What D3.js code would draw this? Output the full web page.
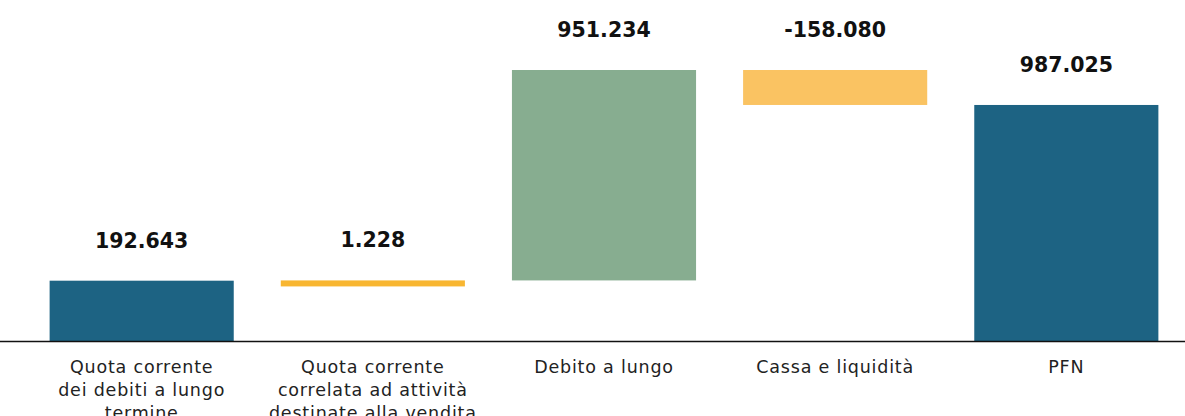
<!DOCTYPE html>
<html>
<head>
<meta charset="utf-8">
<script src="https://cdn.jsdelivr.net/npm/d3@7"></script>
<style>
  body { margin: 0; background: #fff; }
  svg { display: block; }
</style>
</head>
<body>
<div id="chart-area"></div>
<script>
const WIDTH = 1185
const HEIGHT = 416

// data
const categories = [
  "Quota corrente\ndei debiti a lungo\ntermine",
  "Quota corrente\ncorrelata ad attività\ndestinate alla vendita",
  "Debito a lungo",
  "Cassa e liquidità",
  "PFN"
]
const values = [192643, 1228, 951234, -158080, 987025]
const kinds = ["total", "delta", "delta", "delta", "total"]
const colors = ["#1d6383", "#f8b631", "#87ad90", "#fac362", "#1d6383"]

const AXIS_MIN = -80000

const it = d3.formatLocale({ decimal: ",", thousands: ".", grouping: [3], currency: ["€", ""], minus: "-" })
const fmt = it.format(",")

// running totals
let run = 0
const bars = values.map((v, i) => {
  let start, end
  if (kinds[i] === "total") {
    start = AXIS_MIN
    end = v
    run = v
  } else {
    start = run
    end = run + v
    run = end
  }
  return { name: categories[i], value: v, start, end, color: colors[i] }
})

const svg = d3.select("#chart-area").append("svg")
  .attr("width", WIDTH)
  .attr("height", HEIGHT)

const x = d3.scaleBand()
  .domain(categories)
  .range([26.5, 1181.5])
  .paddingInner(0.2035)
  .paddingOuter(0.1)

const y = d3.scaleLinear()
  .domain([AXIS_MIN, d3.max(bars, d => Math.max(d.start, d.end))])
  .range([341, 70])

const MIN_H = 6

svg.selectAll("rect.bar")
  .data(bars)
  .enter().append("rect")
    .attr("class", "bar")
    .attr("x", d => x(d.name))
    .attr("width", x.bandwidth())
    .attr("y", d => y(Math.max(d.start, d.end)))
    .attr("height", d => Math.max(MIN_H, Math.abs(y(d.start) - y(d.end))))
    .attr("fill", d => d.color)

// value labels
svg.selectAll("text.value")
  .data(bars)
  .enter().append("text")
    .attr("class", "value")
    .attr("x", d => x(d.name) + x.bandwidth() / 2)
    .attr("y", d => y(Math.max(d.start, d.end)) - 33)
    .attr("text-anchor", "middle")
    .attr("font-family", "DejaVu Sans, sans-serif")
    .attr("font-weight", "bold")
    .attr("font-size", "20.5px")
    .attr("fill", "#111")
    .text(d => fmt(d.value))

// x axis
const xAxisCall = d3.axisBottom(x).tickSize(0).tickPadding(0)
const xAxis = svg.append("g")
  .attr("class", "x axis")
  .attr("transform", `translate(0, ${y(AXIS_MIN) + 0.5})`)
  .call(xAxisCall)

xAxis.select(".domain")
  .attr("d", `M0,0H${WIDTH}`)
  .attr("stroke", "#111")
  .attr("stroke-width", 1.6)

xAxis.selectAll(".tick text")
  .attr("font-family", "DejaVu Sans, sans-serif")
  .attr("font-size", "17.5px")
  .attr("letter-spacing", "0.8px")
  .attr("fill", "#222")
  .attr("y", 0)
  .attr("dy", null)
  .each(function(d) {
    const t = d3.select(this)
    const lines = d.split("\n")
    t.text(null)
    lines.forEach((line, i) => {
      t.append("tspan")
        .attr("x", 0)
        .attr("y", 31 + i * 23)
        .text(line)
    })
  })
</script>
</body>
</html>
